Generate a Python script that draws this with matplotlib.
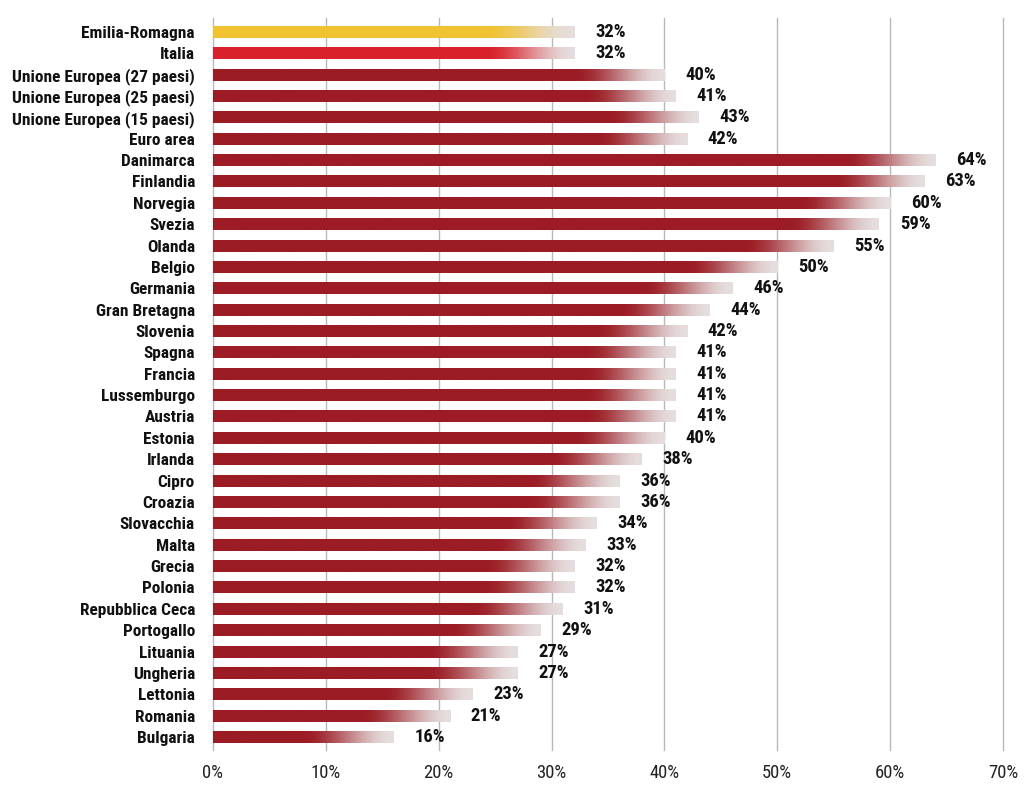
import numpy as np
import matplotlib
matplotlib.use("Agg")
import matplotlib.pyplot as plt
from matplotlib.colors import to_rgb
from matplotlib import font_manager as fm

categories = ["Emilia-Romagna", "Italia", "Unione Europea (27 paesi)", "Unione Europea (25 paesi)",
              "Unione Europea (15 paesi)", "Euro area", "Danimarca", "Finlandia", "Norvegia", "Svezia",
              "Olanda", "Belgio", "Germania", "Gran Bretagna", "Slovenia", "Spagna", "Francia",
              "Lussemburgo", "Austria", "Estonia", "Irlanda", "Cipro", "Croazia", "Slovacchia", "Malta",
              "Grecia", "Polonia", "Repubblica Ceca", "Portogallo", "Lituania", "Ungheria", "Lettonia",
              "Romania", "Bulgaria"]
values = [32, 32, 40, 41, 43, 42, 64, 63, 60, 59, 55, 50, 46, 44, 42, 41, 41, 41, 41, 40, 38, 36, 36,
          34, 33, 32, 32, 31, 29, 27, 27, 23, 21, 16]
xticks = [0, 10, 20, 30, 40, 50, 60, 70]

# pick a narrow font if one is installed
FONT = ["DejaVu Sans"]
STRETCH = "normal"
names = {f.name for f in fm.fontManager.ttflist}
for cand in ["Liberation Sans Narrow", "Roboto Condensed", "Open Sans Condensed"]:
    if cand in names:
        FONT = [cand, "DejaVu Sans"]
        break
else:
    cond = [f for f in fm.fontManager.ttflist if f.name == "DejaVu Sans" and "ondensed" in f.fname]
    if cond:
        STRETCH = "condensed"

DARK = "#9b1c24"
colors = ["#f1c231", "#d9222b"] + [DARK] * (len(values) - 2)
LIGHT = np.array(to_rgb("#e6dede"))

fig = plt.figure(figsize=(10.24, 7.9), dpi=100)
ax = fig.add_axes([0.208, 0.0506, 0.7715, 0.9266])

# size the label font so the longest label spans about as wide as in the reference
renderer = fig.canvas.get_renderer()
probe = fig.text(0, 0, "Unione Europea (27 paesi)", family=FONT, fontstretch=STRETCH,
                 fontsize=12, fontweight="bold")
w = probe.get_window_extent(renderer).width
probe.remove()
FS = min(13.5, 12 * 183.0 / w)

n = len(values)
h = 0.56
fade = 8.0
for i, (v, c) in enumerate(zip(values, colors)):
    x = np.linspace(0, v, 400)
    t = np.clip((x - (v - fade)) / fade, 0, 1)
    t = t * t * (3 - 2 * t)
    base = np.array(to_rgb(c))
    rgb = base[None, :] * (1 - t[:, None]) + LIGHT[None, :] * t[:, None]
    img = rgb[None, :, :]
    ax.imshow(img, extent=[0, v, i + h / 2, i - h / 2], aspect="auto", interpolation="bilinear", zorder=2)
    ax.annotate(f"{v}%", xy=(v, i), xytext=(15, 0), textcoords="offset points", va="center", ha="left",
                fontsize=FS * 1.08, fontweight="bold", family=FONT, fontstretch=STRETCH, color="#111111")

ax.set_xlim(0, 70)
ax.set_ylim(n - 1 + 0.61, -0.65)
ax.set_xticks(xticks)
ax.set_xticklabels([f"{t}%" for t in xticks], family=FONT, fontstretch=STRETCH, fontsize=FS * 1.08,
                   color="#222222")
ax.set_yticks(range(n))
ax.set_yticklabels(categories, family=FONT, fontstretch=STRETCH, fontsize=FS, fontweight="bold", color="#111111")
ax.tick_params(axis="both", length=0)
ax.tick_params(axis="y", pad=13)
ax.tick_params(axis="x", pad=10)
for s in ax.spines.values():
    s.set_visible(False)
ax.grid(axis="x", color="#b8b8b8", linewidth=1, zorder=0)
for gl in ax.get_xgridlines():
    gl.set_clip_on(False)
ax.set_axisbelow(True)

fig.savefig("out.png", dpi=100)
